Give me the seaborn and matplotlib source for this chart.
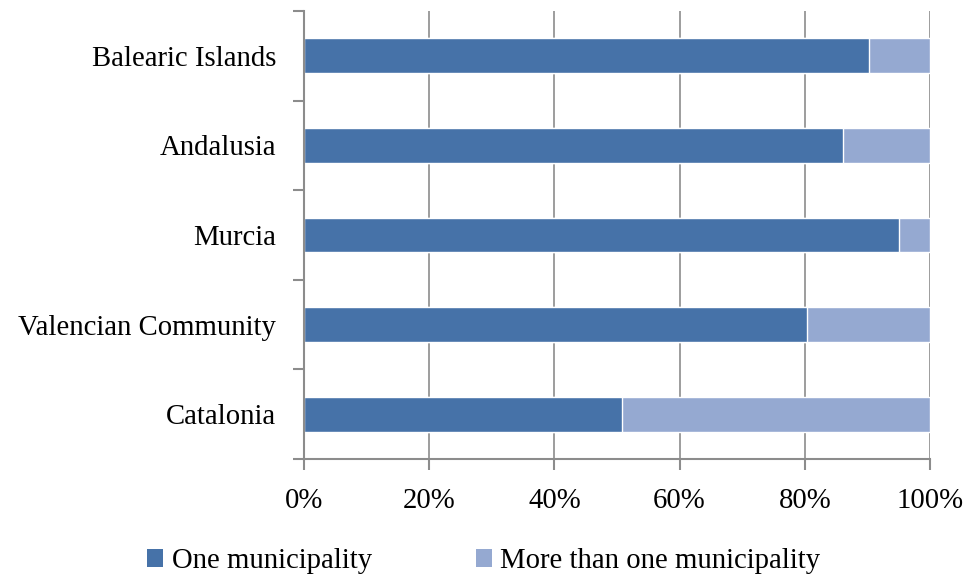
import matplotlib
matplotlib.use("Agg")
import matplotlib.pyplot as plt
import seaborn as sns
import pandas as pd
from matplotlib.patches import Patch
from matplotlib.ticker import FixedLocator, FuncFormatter

regions = ["Balearic Islands", "Andalusia", "Murcia", "Valencian Community", "Catalonia"]
one_muni = [90.3, 86.1, 95.0, 80.4, 50.8]
more_muni = [9.7, 13.9, 5.0, 19.6, 49.2]
x_ticks = [0, 20, 40, 60, 80, 100]

dark = "#4672A8"
light = "#95A9D1"
gray = "#8C8C8C"
fs = 20.7

sns.set_theme(style="white")
plt.rcParams["font.family"] = ["Liberation Serif", "DejaVu Serif"]
plt.rcParams["text.color"] = "black"

df = pd.DataFrame({"region": regions, "one": one_muni, "more": more_muni})
df["total"] = df["one"] + df["more"]

fig = plt.figure(figsize=(9.68, 5.74), dpi=100)
ax = fig.add_axes([304/968, 1 - 459/574, (930-304)/968, (459-11)/574])

sns.barplot(data=df, y="region", x="total", color=light, width=0.39, ax=ax,
            orient="h", saturation=1, zorder=3)
sns.barplot(data=df, y="region", x="one", color=dark, width=0.39, ax=ax,
            orient="h", saturation=1, zorder=4)

ax.set_xlim(0, 100)
ax.set_ylim(4.5, -0.5)
ax.set_xlabel("")
ax.set_ylabel("")

ax.xaxis.set_major_locator(FixedLocator(x_ticks))
ax.xaxis.set_major_formatter(FuncFormatter(lambda v, p: f"{int(v)}%"))
ax.grid(axis="x", color=gray, linewidth=1.2, zorder=0)
ax.set_axisbelow(True)

ax.yaxis.set_minor_locator(FixedLocator([-0.5, 0.5, 1.5, 2.5, 3.5, 4.5]))
ax.tick_params(axis="y", which="major", length=0, pad=20, labelsize=fs, labelcolor="black")
ax.tick_params(axis="y", which="minor", left=True, length=8, width=1.5, color=gray, direction="out")
ax.tick_params(axis="x", which="major", bottom=True, length=8, width=1.5, color=gray,
               direction="out", pad=13, labelsize=fs, labelcolor="black")

for s in ["top", "right"]:
    ax.spines[s].set_visible(False)
for s in ["left", "bottom"]:
    ax.spines[s].set_color(gray)
    ax.spines[s].set_linewidth(1.5)
    ax.spines[s].set_zorder(5)

handles = [Patch(facecolor=dark, edgecolor="none"), Patch(facecolor=light, edgecolor="none")]
leg = fig.legend(handles, ["One municipality", "More than one municipality"],
                 loc="lower center", bbox_to_anchor=(0.5, -0.045), ncol=2, frameon=False,
                 fontsize=fs, handlelength=0.56, handleheight=0.56, handletextpad=0.3,
                 columnspacing=3.6)
for t in leg.get_texts():
    t.set_color("black")

fig.savefig("out.png", dpi=100)
